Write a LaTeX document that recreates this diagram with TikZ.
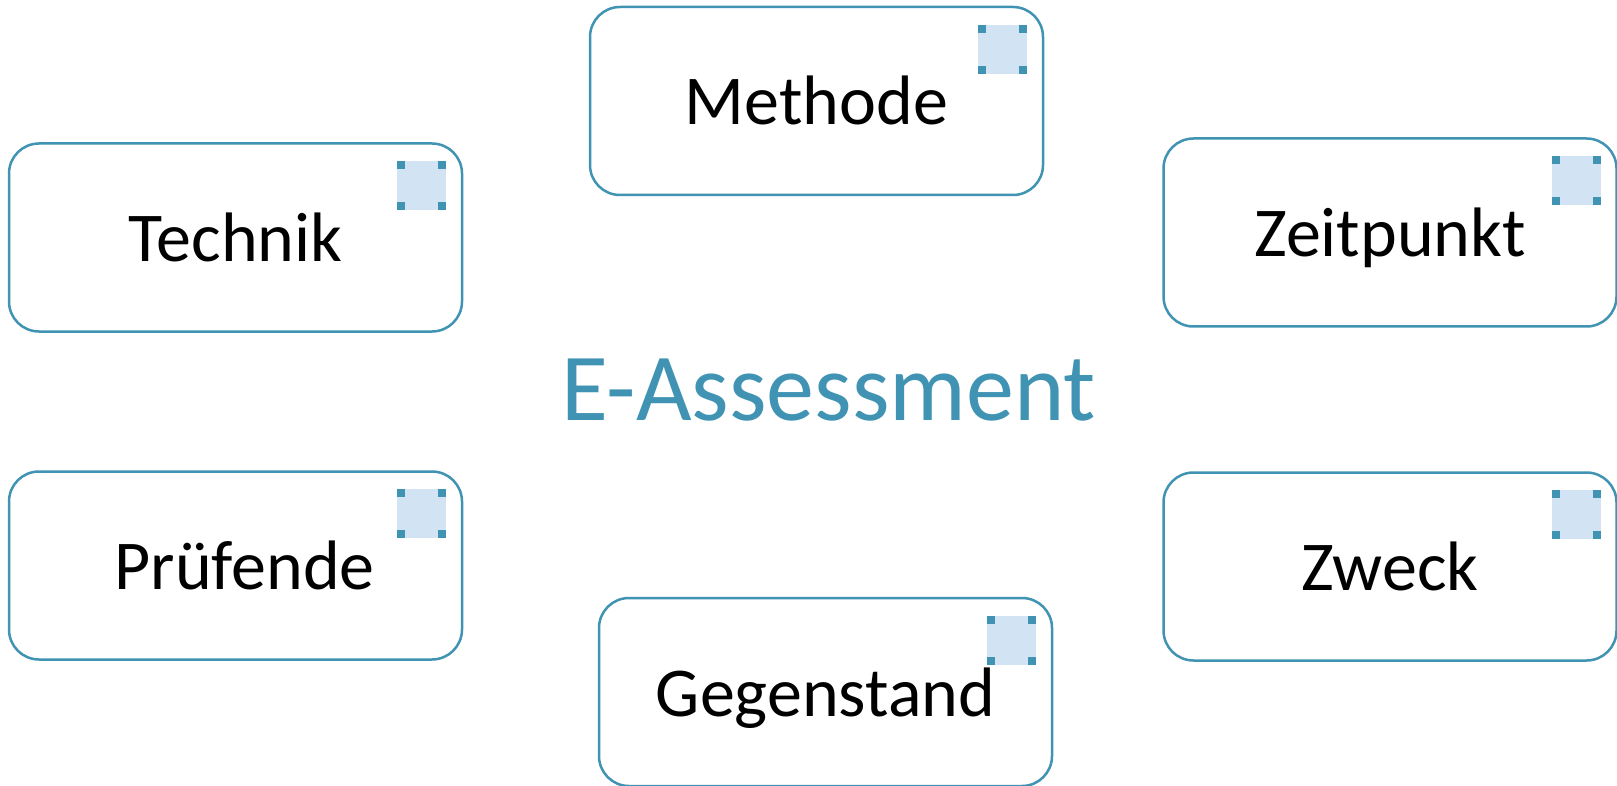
\documentclass[tikz,border=0pt]{standalone}
\usepackage{fontspec}
\setmainfont{Carlito}
\usetikzlibrary{positioning}
\definecolor{rahmen}{RGB}{64,147,178}
\definecolor{symbol}{RGB}{210,227,243}

\begin{document}
\begin{tikzpicture}[x=1pt,y=-1pt,
    feld/.style={draw=rahmen,line width=2.5pt,rounded corners=30pt,fill=white,
      minimum width=453pt,minimum height=188pt,text height=48pt,text depth=0pt,
      font=\fontsize{70}{84}\selectfont},
    symbolfeld/.style={fill=symbol,minimum size=49pt,inner sep=0pt,outer sep=0pt},
    ecke/.style={fill=rahmen,minimum size=8pt,inner sep=0pt,outer sep=0pt}]
    \useasboundingbox (0,0) rectangle (1617,786);
    \node[feld](methode) at (816.5,101){Methode};
    \node[feld](technik) at (235.5,237.5){Technik};
    \node[feld](zeitpunkt) at (1390,232.5){Zeitpunkt};
    \node[feld](pruefende) at (235.5,565.5){\hspace*{18pt}Prüfende};
    \node[feld](zweck) at (1390,566.5){Zweck};
    \node[feld](gegenstand) at (825.5,692){Gegenstand};
    \node[text=rahmen,anchor=base,font=\fontsize{96}{115}\selectfont](titel) at (828.5,420){E-Assessment};
    \foreach \n in {methode,technik,zeitpunkt,pruefende,zweck,gegenstand}{
      \node[symbolfeld,anchor=north east](s\n) at ([xshift=-17pt,yshift=-19pt]\n.north east){};
      \foreach \e [count=\i] in {north east,north west,south east,south west}
        \node[ecke,anchor=\e](s\n-\i) at (s\n.\e){};
    }
  \end{tikzpicture}
\end{document}
